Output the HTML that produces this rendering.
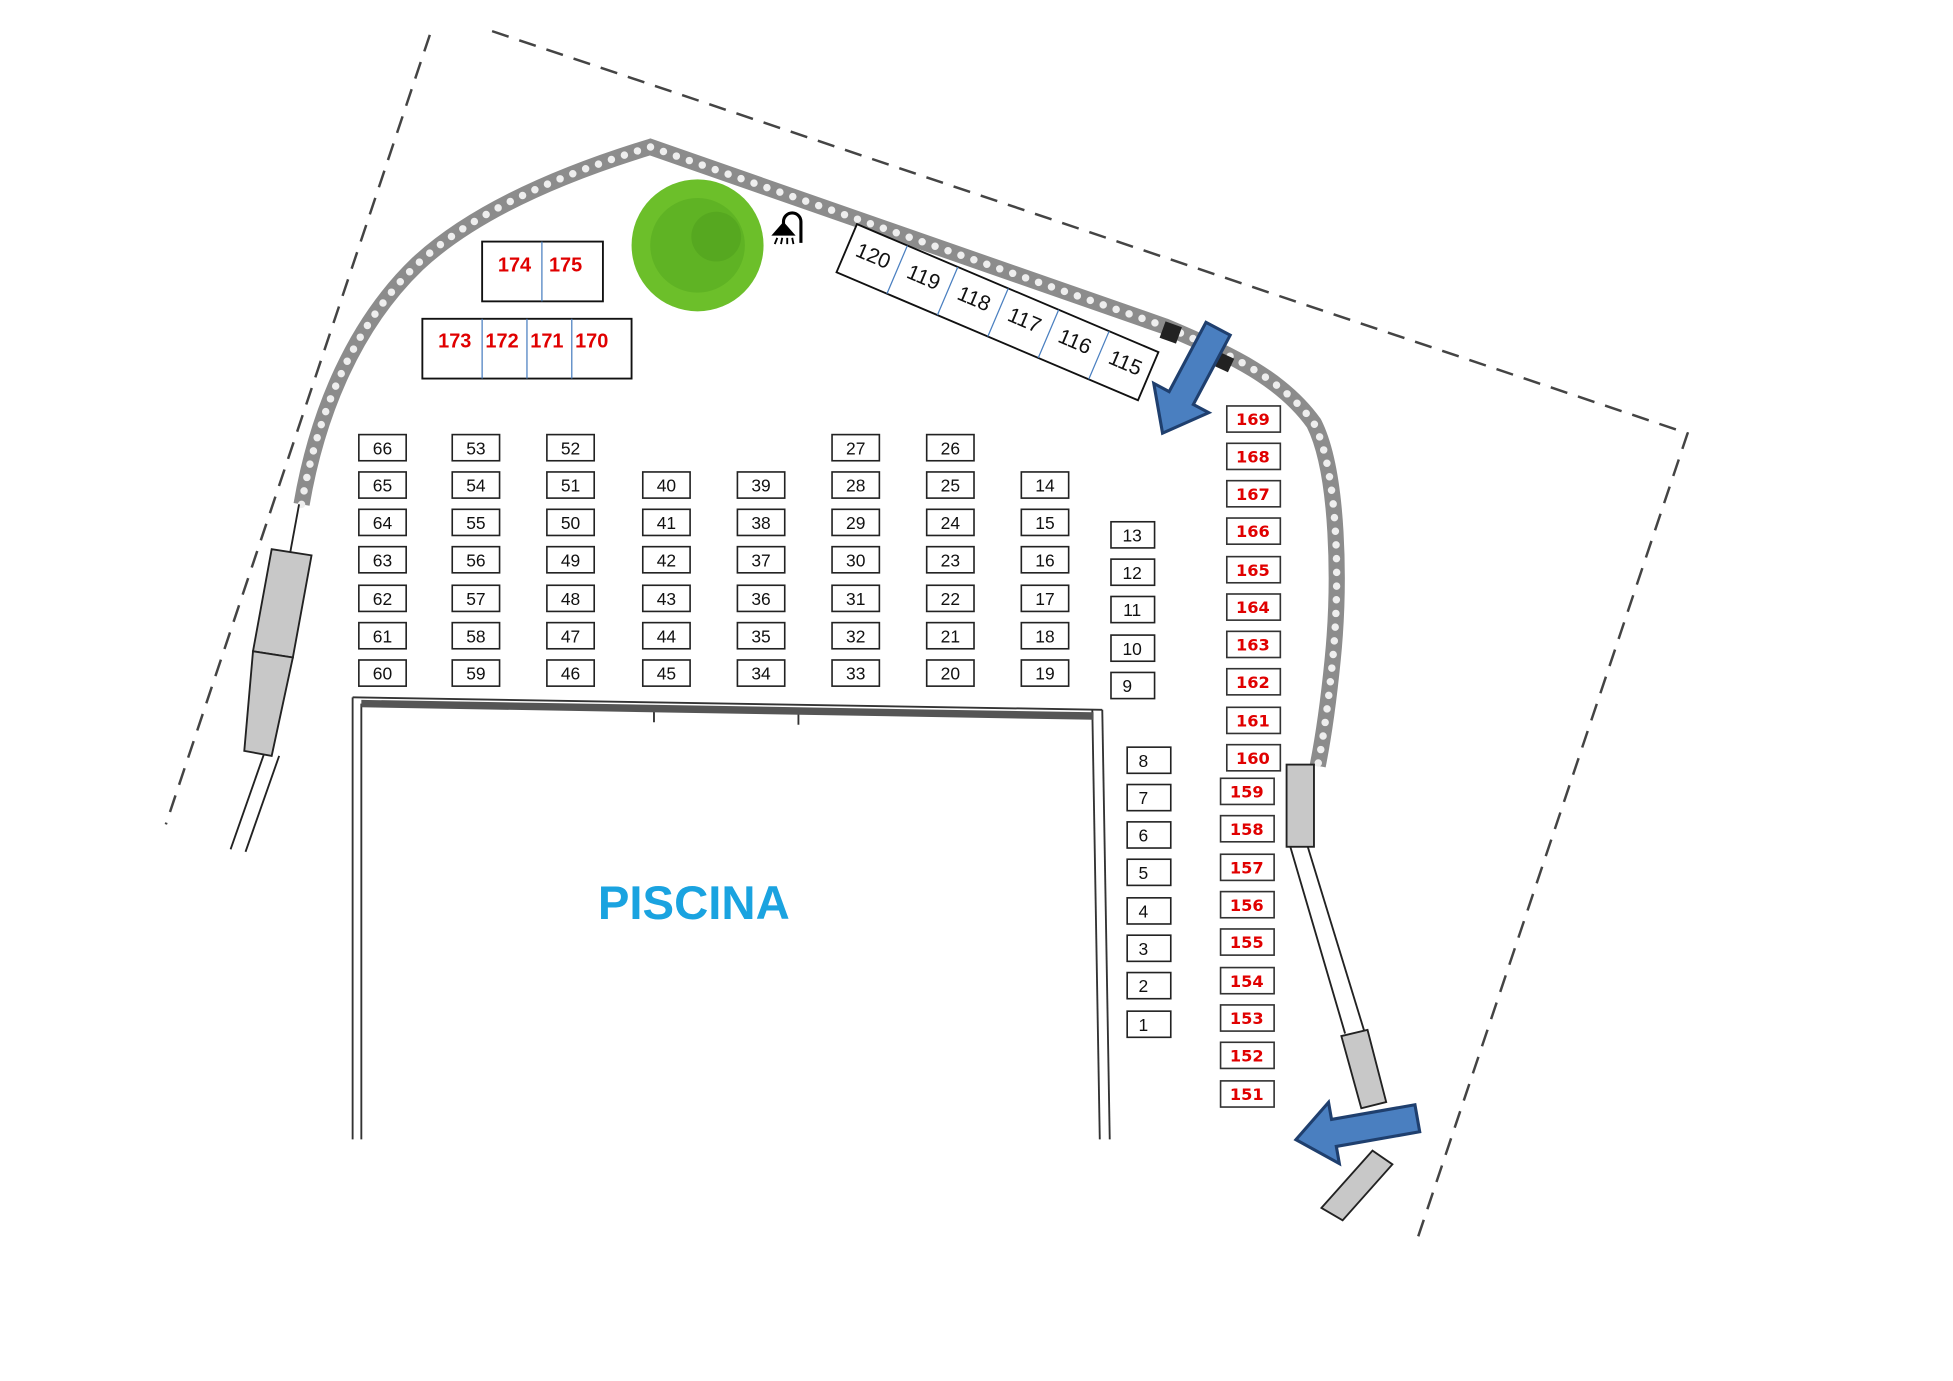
<!DOCTYPE html>
<html><head><meta charset="utf-8"><style>
html,body{margin:0;padding:0;background:#fff}
svg{display:block}
.b rect{fill:#fff;stroke:#222;stroke-width:1.3}
.b text{font-family:"Liberation Sans",sans-serif;font-size:14px;fill:#111;text-anchor:middle;dominant-baseline:central}
.r rect{fill:#fff;stroke:#333;stroke-width:1.3}
.r text{font-family:"DejaVu Sans","Liberation Sans",sans-serif;font-weight:bold;font-size:13px;fill:#e00000;text-anchor:middle;dominant-baseline:central}
</style></head><body>
<svg width="1953" height="1381" viewBox="0 0 1568 1109" xmlns="http://www.w3.org/2000/svg">
<rect width="1568" height="1109" fill="#fff"/>
<g fill="none" stroke="#444" stroke-width="2" stroke-dasharray="14 9">
<path d="M345 28 L133 662"/>
<path d="M395 25 L1355 348 L1137 998"/>
</g>
<path d="M242 405 C255 330 285 260 335 212 C380 170 450 140 522 118 L935 262 C990 285 1030 305 1055 340 C1075 380 1076 470 1070 530 C1066 570 1062 595 1058 615" fill="none" stroke="#8c8c8c" stroke-width="13"/>
<path d="M242 405 C255 330 285 260 335 212 C380 170 450 140 522 118 L935 262 C990 285 1030 305 1055 340 C1075 380 1076 470 1070 530 C1066 570 1062 595 1058 615" fill="none" stroke="#eee" stroke-width="6" stroke-dasharray="0 11" stroke-linecap="round"/>
<rect x="933" y="260" width="14" height="14" fill="#222" transform="rotate(20 940 267)"/>
<rect x="977" y="285" width="12" height="12" fill="#222" transform="rotate(25 983 291)"/>
<g stroke="#222" stroke-width="1.5">
<line x1="212" y1="605" x2="185" y2="682"/><line x1="224" y1="607" x2="197" y2="684"/>
<line x1="240" y1="405" x2="233" y2="443"/>
<polygon points="218,441 250,446 235,528 203,523" fill="#c8c8c8"/>
<polygon points="203,523 235,528 218,607 196,603" fill="#c8c8c8"/>
</g>
<g stroke="#222" stroke-width="1.5">
<rect x="1033" y="614" width="22" height="66" fill="#c8c8c8"/>
<line x1="1036" y1="680" x2="1080" y2="830"/><line x1="1050" y1="680" x2="1096" y2="830"/>
<polygon points="1077,832 1098,827 1113,885 1093,890" fill="#c8c8c8"/>
<polygon points="1061,970 1078,980 1118,935 1102,924" fill="#c8c8c8"/>
</g>
<circle cx="560" cy="197" r="53" fill="#6cbf2a"/>
<circle cx="560" cy="197" r="38" fill="#5aae22" opacity="0.7"/>
<circle cx="575" cy="190" r="20" fill="#4e9e1c" opacity="0.5"/>
<g stroke="#000" fill="none" stroke-width="2.5">
<path d="M643 195 V178 A7 7 0 0 0 629 178 V180"/>
<path d="M622 188 L636 188 L629 180 Z" fill="#000"/>
<path d="M624 191 L622 196 M628 191 L627 196 M632 191 L632 196 M636 191 L637 196" stroke-width="1.5"/>
</g>
<rect x="387" y="194" width="97" height="48" fill="#fff" stroke="#111" stroke-width="1.5"/>
<line x1="435" y1="194" x2="435" y2="242" stroke="#4a7fc0"/>
<rect x="339" y="256" width="168" height="48" fill="#fff" stroke="#111" stroke-width="1.5"/>
<line x1="387" y1="256" x2="387" y2="304" stroke="#4a7fc0"/>
<line x1="423" y1="256" x2="423" y2="304" stroke="#4a7fc0"/>
<line x1="459" y1="256" x2="459" y2="304" stroke="#4a7fc0"/>
<g font-family="Liberation Sans, sans-serif" font-weight="bold" font-size="16" fill="#e00000" text-anchor="middle">
<text x="413" y="218">174</text><text x="454" y="218">175</text>
<text x="365" y="279">173</text><text x="403" y="279">172</text><text x="439" y="279">171</text><text x="475" y="279">170</text>
</g>
<g transform="translate(688 180) rotate(23)">
<rect x="0" y="0" width="263" height="42" fill="#fff" stroke="#111" stroke-width="1.5"/>
<g stroke="#4a7fc0"><line x1="44" y1="0" x2="44" y2="42"/><line x1="88" y1="0" x2="88" y2="42"/><line x1="132" y1="0" x2="132" y2="42"/><line x1="176" y1="0" x2="176" y2="42"/><line x1="220" y1="0" x2="220" y2="42"/></g>
<g font-family="Liberation Sans, sans-serif" font-size="17" fill="#111" text-anchor="middle">
<text x="22" y="24">120</text><text x="66" y="24">119</text><text x="110" y="24">118</text><text x="154" y="24">117</text><text x="198" y="24">116</text><text x="242" y="24">115</text>
</g></g>
<polygon transform="translate(978 264) rotate(118)" points="0,-11 63,-11 63,-25 95,0 63,25 63,11 0,11" fill="#4a7fc0" stroke="#1f3f6e" stroke-width="2.5"/>
<polygon transform="translate(1138 898) rotate(170)" points="0,-11 68,-11 68,-25 99,0 68,25 68,11 0,11" fill="#4a7fc0" stroke="#1f3f6e" stroke-width="2.5"/>
<g stroke="#333" fill="none" stroke-width="1.5">
<line x1="283" y1="560" x2="283" y2="915"/><line x1="290" y1="565" x2="290" y2="915"/>
<line x1="877" y1="570" x2="883" y2="915"/><line x1="885" y1="570" x2="891" y2="915"/>
<line x1="283" y1="560" x2="885" y2="570"/>
<line x1="525" y1="570" x2="525" y2="580"/><line x1="641" y1="572" x2="641" y2="582"/>
</g>
<polygon points="290,562 878,572 878,578 290,568" fill="#555"/>
<text x="557" y="738" font-family="Liberation Sans, sans-serif" font-weight="bold" font-size="38" fill="#1aa3e0" text-anchor="middle">PISCINA</text>
<g class="b">
<rect x="288" y="349" width="38" height="21"/><text x="307" y="360">66</text>
<rect x="288" y="379" width="38" height="21"/><text x="307" y="390">65</text>
<rect x="288" y="409" width="38" height="21"/><text x="307" y="420">64</text>
<rect x="288" y="439" width="38" height="21"/><text x="307" y="450">63</text>
<rect x="288" y="470" width="38" height="21"/><text x="307" y="481">62</text>
<rect x="288" y="500" width="38" height="21"/><text x="307" y="511">61</text>
<rect x="288" y="530" width="38" height="21"/><text x="307" y="541">60</text>
<rect x="363" y="349" width="38" height="21"/><text x="382" y="360">53</text>
<rect x="363" y="379" width="38" height="21"/><text x="382" y="390">54</text>
<rect x="363" y="409" width="38" height="21"/><text x="382" y="420">55</text>
<rect x="363" y="439" width="38" height="21"/><text x="382" y="450">56</text>
<rect x="363" y="470" width="38" height="21"/><text x="382" y="481">57</text>
<rect x="363" y="500" width="38" height="21"/><text x="382" y="511">58</text>
<rect x="363" y="530" width="38" height="21"/><text x="382" y="541">59</text>
<rect x="439" y="349" width="38" height="21"/><text x="458" y="360">52</text>
<rect x="439" y="379" width="38" height="21"/><text x="458" y="390">51</text>
<rect x="439" y="409" width="38" height="21"/><text x="458" y="420">50</text>
<rect x="439" y="439" width="38" height="21"/><text x="458" y="450">49</text>
<rect x="439" y="470" width="38" height="21"/><text x="458" y="481">48</text>
<rect x="439" y="500" width="38" height="21"/><text x="458" y="511">47</text>
<rect x="439" y="530" width="38" height="21"/><text x="458" y="541">46</text>
<rect x="516" y="379" width="38" height="21"/><text x="535" y="390">40</text>
<rect x="516" y="409" width="38" height="21"/><text x="535" y="420">41</text>
<rect x="516" y="439" width="38" height="21"/><text x="535" y="450">42</text>
<rect x="516" y="470" width="38" height="21"/><text x="535" y="481">43</text>
<rect x="516" y="500" width="38" height="21"/><text x="535" y="511">44</text>
<rect x="516" y="530" width="38" height="21"/><text x="535" y="541">45</text>
<rect x="592" y="379" width="38" height="21"/><text x="611" y="390">39</text>
<rect x="592" y="409" width="38" height="21"/><text x="611" y="420">38</text>
<rect x="592" y="439" width="38" height="21"/><text x="611" y="450">37</text>
<rect x="592" y="470" width="38" height="21"/><text x="611" y="481">36</text>
<rect x="592" y="500" width="38" height="21"/><text x="611" y="511">35</text>
<rect x="592" y="530" width="38" height="21"/><text x="611" y="541">34</text>
<rect x="668" y="349" width="38" height="21"/><text x="687" y="360">27</text>
<rect x="668" y="379" width="38" height="21"/><text x="687" y="390">28</text>
<rect x="668" y="409" width="38" height="21"/><text x="687" y="420">29</text>
<rect x="668" y="439" width="38" height="21"/><text x="687" y="450">30</text>
<rect x="668" y="470" width="38" height="21"/><text x="687" y="481">31</text>
<rect x="668" y="500" width="38" height="21"/><text x="687" y="511">32</text>
<rect x="668" y="530" width="38" height="21"/><text x="687" y="541">33</text>
<rect x="744" y="349" width="38" height="21"/><text x="763" y="360">26</text>
<rect x="744" y="379" width="38" height="21"/><text x="763" y="390">25</text>
<rect x="744" y="409" width="38" height="21"/><text x="763" y="420">24</text>
<rect x="744" y="439" width="38" height="21"/><text x="763" y="450">23</text>
<rect x="744" y="470" width="38" height="21"/><text x="763" y="481">22</text>
<rect x="744" y="500" width="38" height="21"/><text x="763" y="511">21</text>
<rect x="744" y="530" width="38" height="21"/><text x="763" y="541">20</text>
<rect x="820" y="379" width="38" height="21"/><text x="839" y="390">14</text>
<rect x="820" y="409" width="38" height="21"/><text x="839" y="420">15</text>
<rect x="820" y="439" width="38" height="21"/><text x="839" y="450">16</text>
<rect x="820" y="470" width="38" height="21"/><text x="839" y="481">17</text>
<rect x="820" y="500" width="38" height="21"/><text x="839" y="511">18</text>
<rect x="820" y="530" width="38" height="21"/><text x="839" y="541">19</text>
<rect x="892" y="419" width="35" height="21"/><text x="909" y="430">13</text>
<rect x="892" y="449" width="35" height="21"/><text x="909" y="460">12</text>
<rect x="892" y="479" width="35" height="21"/><text x="909" y="490">11</text>
<rect x="892" y="510" width="35" height="21"/><text x="909" y="521">10</text>
<rect x="892" y="540" width="35" height="21"/><text x="905" y="551">9</text>
<rect x="905" y="600" width="35" height="21"/><text x="918" y="611">8</text>
<rect x="905" y="630" width="35" height="21"/><text x="918" y="641">7</text>
<rect x="905" y="660" width="35" height="21"/><text x="918" y="671">6</text>
<rect x="905" y="690" width="35" height="21"/><text x="918" y="701">5</text>
<rect x="905" y="721" width="35" height="21"/><text x="918" y="732">4</text>
<rect x="905" y="751" width="35" height="21"/><text x="918" y="762">3</text>
<rect x="905" y="781" width="35" height="21"/><text x="918" y="792">2</text>
<rect x="905" y="812" width="35" height="21"/><text x="918" y="823">1</text>
</g>
<g class="r">
<rect x="985" y="326" width="43" height="21"/><text x="1006" y="337">169</text>
<rect x="985" y="356" width="43" height="21"/><text x="1006" y="367">168</text>
<rect x="985" y="386" width="43" height="21"/><text x="1006" y="397">167</text>
<rect x="985" y="416" width="43" height="21"/><text x="1006" y="427">166</text>
<rect x="985" y="447" width="43" height="21"/><text x="1006" y="458">165</text>
<rect x="985" y="477" width="43" height="21"/><text x="1006" y="488">164</text>
<rect x="985" y="507" width="43" height="21"/><text x="1006" y="518">163</text>
<rect x="985" y="537" width="43" height="21"/><text x="1006" y="548">162</text>
<rect x="985" y="568" width="43" height="21"/><text x="1006" y="579">161</text>
<rect x="985" y="598" width="43" height="21"/><text x="1006" y="609">160</text>
<rect x="980" y="625" width="43" height="21"/><text x="1001" y="636">159</text>
<rect x="980" y="655" width="43" height="21"/><text x="1001" y="666">158</text>
<rect x="980" y="686" width="43" height="21"/><text x="1001" y="697">157</text>
<rect x="980" y="716" width="43" height="21"/><text x="1001" y="727">156</text>
<rect x="980" y="746" width="43" height="21"/><text x="1001" y="757">155</text>
<rect x="980" y="777" width="43" height="21"/><text x="1001" y="788">154</text>
<rect x="980" y="807" width="43" height="21"/><text x="1001" y="818">153</text>
<rect x="980" y="837" width="43" height="21"/><text x="1001" y="848">152</text>
<rect x="980" y="868" width="43" height="21"/><text x="1001" y="879">151</text>
</g>
</svg>
</body></html>
